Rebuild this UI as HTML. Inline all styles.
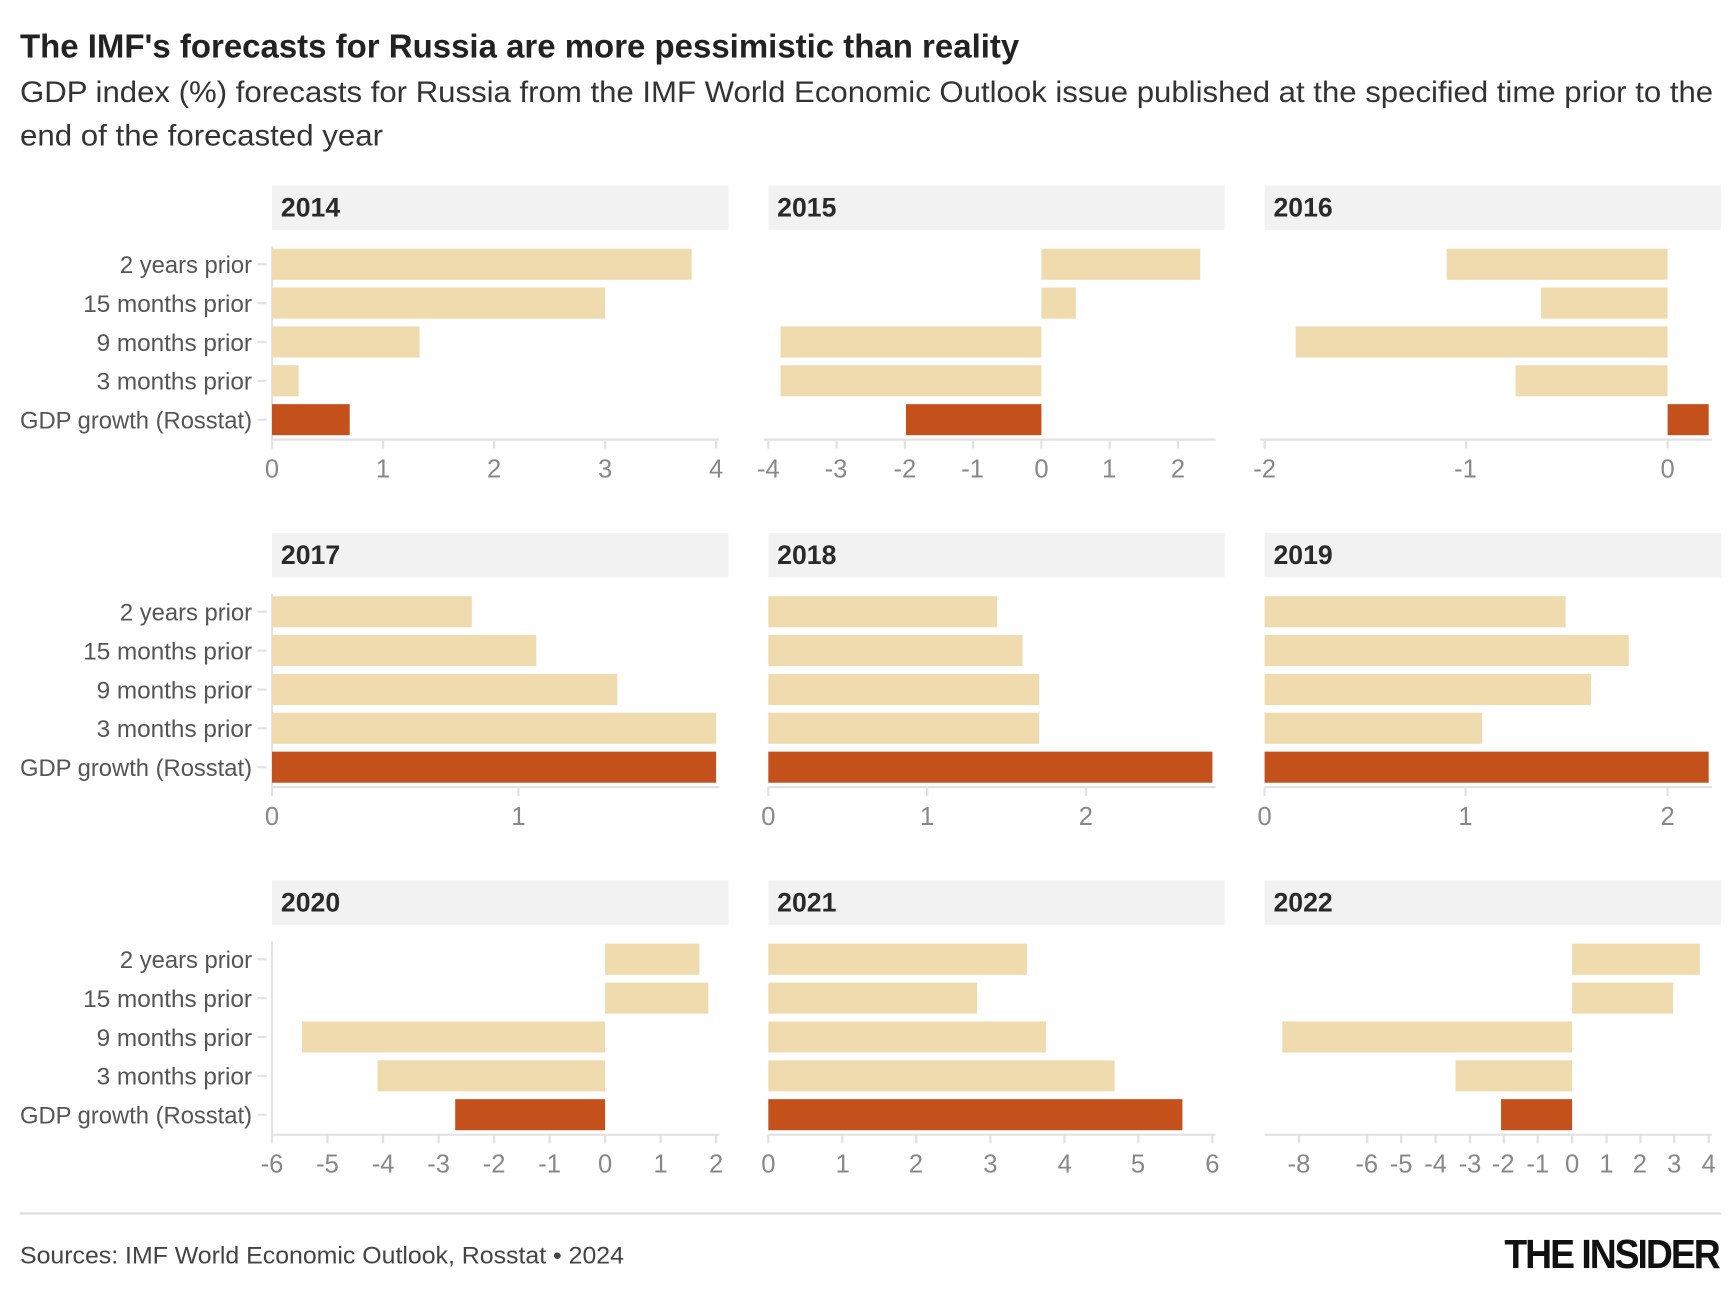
<!DOCTYPE html>
<html><head><meta charset="utf-8"><style>
html,body{margin:0;padding:0;background:#fff;}
svg{display:block;}
text{font-family:"Liberation Sans Narrow","Liberation Sans",sans-serif;}
.t{font-size:30px;font-weight:bold;fill:#222;}
.s{font-size:27px;fill:#333;}
.h{font-size:24px;font-weight:bold;fill:#2a2a2a;}
.l{font-size:22px;fill:#555;text-anchor:end;}
.k{font-size:23px;fill:#888;text-anchor:middle;}
.a{stroke:#e2e2e2;stroke-width:2;fill:none;}
.f{fill:#f0dbae;}
.d{fill:#c4511c;}
.hb{fill:#f2f2f2;}
</style></head><body>
<svg width="1732" height="1289" viewBox="0 0 1560 1161" xmlns="http://www.w3.org/2000/svg">
<text class="t" x="18" y="52" textLength="900" lengthAdjust="spacingAndGlyphs">The IMF's forecasts for Russia are more pessimistic than reality</text>
<text class="s" x="18" y="92" textLength="1525" lengthAdjust="spacingAndGlyphs">GDP index (%) forecasts for Russia from the IMF World Economic Outlook issue published at the specified time prior to the</text>
<text class="s" x="18" y="131" textLength="327" lengthAdjust="spacingAndGlyphs">end of the forecasted year</text>

<g>
<text class="l" x="227" y="246" textLength="119" lengthAdjust="spacingAndGlyphs">2 years prior</text>
<text class="l" x="227" y="281" textLength="152" lengthAdjust="spacingAndGlyphs">15 months prior</text>
<text class="l" x="227" y="316" textLength="140" lengthAdjust="spacingAndGlyphs">9 months prior</text>
<text class="l" x="227" y="351" textLength="140" lengthAdjust="spacingAndGlyphs">3 months prior</text>
<text class="l" x="227" y="386" textLength="209" lengthAdjust="spacingAndGlyphs">GDP growth (Rosstat)</text>
</g>
<g transform="translate(0,313)">
<text class="l" x="227" y="246" textLength="119" lengthAdjust="spacingAndGlyphs">2 years prior</text>
<text class="l" x="227" y="281" textLength="152" lengthAdjust="spacingAndGlyphs">15 months prior</text>
<text class="l" x="227" y="316" textLength="140" lengthAdjust="spacingAndGlyphs">9 months prior</text>
<text class="l" x="227" y="351" textLength="140" lengthAdjust="spacingAndGlyphs">3 months prior</text>
<text class="l" x="227" y="386" textLength="209" lengthAdjust="spacingAndGlyphs">GDP growth (Rosstat)</text>
</g>
<g transform="translate(0,626)">
<text class="l" x="227" y="246" textLength="119" lengthAdjust="spacingAndGlyphs">2 years prior</text>
<text class="l" x="227" y="281" textLength="152" lengthAdjust="spacingAndGlyphs">15 months prior</text>
<text class="l" x="227" y="316" textLength="140" lengthAdjust="spacingAndGlyphs">9 months prior</text>
<text class="l" x="227" y="351" textLength="140" lengthAdjust="spacingAndGlyphs">3 months prior</text>
<text class="l" x="227" y="386" textLength="209" lengthAdjust="spacingAndGlyphs">GDP growth (Rosstat)</text>
</g>
<g class="a"><path d="M232 238h8M232 273h8M232 308h8M232 343h8M232 378h8M245 222V396"/>
<path d="M232 551h8M232 586h8M232 621h8M232 656h8M232 691h8M245 535V709"/>
<path d="M232 864h8M232 899h8M232 934h8M232 969h8M232 1004h8M245 848V1022"/></g>

<rect class="hb" x="245" y="167" width="411" height="40"/><text class="h" x="253" y="195">2014</text>
<rect class="hb" x="692" y="167" width="411" height="40"/><text class="h" x="700" y="195">2015</text>
<rect class="hb" x="1139" y="167" width="411" height="40"/><text class="h" x="1147" y="195">2016</text>
<rect class="hb" x="245" y="480" width="411" height="40"/><text class="h" x="253" y="508">2017</text>
<rect class="hb" x="692" y="480" width="411" height="40"/><text class="h" x="700" y="508">2018</text>
<rect class="hb" x="1139" y="480" width="411" height="40"/><text class="h" x="1147" y="508">2019</text>
<rect class="hb" x="245" y="793" width="411" height="40"/><text class="h" x="253" y="821">2020</text>
<rect class="hb" x="692" y="793" width="411" height="40"/><text class="h" x="700" y="821">2021</text>
<rect class="hb" x="1139" y="793" width="411" height="40"/><text class="h" x="1147" y="821">2022</text>

<rect class="f" x="245" y="224" width="378" height="28"/>
<rect class="f" x="245" y="259" width="300" height="28"/>
<rect class="f" x="245" y="294" width="133" height="28"/>
<rect class="f" x="245" y="329" width="24" height="28"/>
<rect class="d" x="245" y="364" width="70" height="28"/>
<path class="a" d="M245 396H648M245 396v8M345 396v8M445 396v8M545 396v8M645 396v8"/>
<text class="k" x="245" y="430">0</text><text class="k" x="345" y="430">1</text><text class="k" x="445" y="430">2</text><text class="k" x="545" y="430">3</text><text class="k" x="645" y="430">4</text>

<rect class="f" x="938" y="224" width="143" height="28"/>
<rect class="f" x="938" y="259" width="31" height="28"/>
<rect class="f" x="703" y="294" width="235" height="28"/>
<rect class="f" x="703" y="329" width="235" height="28"/>
<rect class="d" x="816" y="364" width="122" height="28"/>
<path class="a" d="M688 396H1095M692 396v8M753.5 396v8M815 396v8M876.5 396v8M938 396v8M999.5 396v8M1061 396v8"/>
<text class="k" x="692" y="430">-4</text><text class="k" x="753" y="430">-3</text><text class="k" x="815" y="430">-2</text><text class="k" x="876" y="430">-1</text><text class="k" x="938" y="430">0</text><text class="k" x="999" y="430">1</text><text class="k" x="1061" y="430">2</text>

<rect class="f" x="1303" y="224" width="199" height="28"/>
<rect class="f" x="1388" y="259" width="114" height="28"/>
<rect class="f" x="1167" y="294" width="335" height="28"/>
<rect class="f" x="1365" y="329" width="137" height="28"/>
<rect class="d" x="1502" y="364" width="37" height="28"/>
<path class="a" d="M1135 396H1542M1139 396v8M1320.5 396v8M1502 396v8"/>
<text class="k" x="1139" y="430">-2</text><text class="k" x="1320" y="430">-1</text><text class="k" x="1502" y="430">0</text>

<rect class="f" x="245" y="537" width="180" height="28"/>
<rect class="f" x="245" y="572" width="238" height="28"/>
<rect class="f" x="245" y="607" width="311" height="28"/>
<rect class="f" x="245" y="642" width="400" height="28"/>
<rect class="d" x="245" y="677" width="400" height="28"/>
<path class="a" d="M245 709H648M245 709v8M467 709v8"/>
<text class="k" x="245" y="743">0</text><text class="k" x="467" y="743">1</text>

<rect class="f" x="692" y="537" width="206" height="28"/>
<rect class="f" x="692" y="572" width="229" height="28"/>
<rect class="f" x="692" y="607" width="244" height="28"/>
<rect class="f" x="692" y="642" width="244" height="28"/>
<rect class="d" x="692" y="677" width="400" height="28"/>
<path class="a" d="M692 709H1095M692 709v8M835 709v8M978 709v8"/>
<text class="k" x="692" y="743">0</text><text class="k" x="835" y="743">1</text><text class="k" x="978" y="743">2</text>

<rect class="f" x="1139" y="537" width="271" height="28"/>
<rect class="f" x="1139" y="572" width="328" height="28"/>
<rect class="f" x="1139" y="607" width="294" height="28"/>
<rect class="f" x="1139" y="642" width="196" height="28"/>
<rect class="d" x="1139" y="677" width="400" height="28"/>
<path class="a" d="M1139 709H1542M1139 709v8M1320 709v8M1502 709v8"/>
<text class="k" x="1139" y="743">0</text><text class="k" x="1320" y="743">1</text><text class="k" x="1502" y="743">2</text>

<rect class="f" x="545" y="850" width="85" height="28"/>
<rect class="f" x="545" y="885" width="93" height="28"/>
<rect class="f" x="272" y="920" width="273" height="28"/>
<rect class="f" x="340" y="955" width="205" height="28"/>
<rect class="d" x="410" y="990" width="135" height="28"/>
<path class="a" d="M245 1022H648M245 1022v8M295 1022v8M345 1022v8M395 1022v8M445 1022v8M495 1022v8M545 1022v8M595 1022v8M645 1022v8"/>
<text class="k" x="245" y="1056">-6</text><text class="k" x="295" y="1056">-5</text><text class="k" x="345" y="1056">-4</text><text class="k" x="395" y="1056">-3</text><text class="k" x="445" y="1056">-2</text><text class="k" x="495" y="1056">-1</text><text class="k" x="545" y="1056">0</text><text class="k" x="595" y="1056">1</text><text class="k" x="645" y="1056">2</text>

<rect class="f" x="692" y="850" width="233" height="28"/>
<rect class="f" x="692" y="885" width="188" height="28"/>
<rect class="f" x="692" y="920" width="250" height="28"/>
<rect class="f" x="692" y="955" width="312" height="28"/>
<rect class="d" x="692" y="990" width="373" height="28"/>
<path class="a" d="M692 1022H1095M692 1022v8M758.7 1022v8M825.3 1022v8M892 1022v8M958.7 1022v8M1025.3 1022v8M1092 1022v8"/>
<text class="k" x="692" y="1056">0</text><text class="k" x="759" y="1056">1</text><text class="k" x="825" y="1056">2</text><text class="k" x="892" y="1056">3</text><text class="k" x="959" y="1056">4</text><text class="k" x="1025" y="1056">5</text><text class="k" x="1092" y="1056">6</text>

<rect class="f" x="1416" y="850" width="115" height="28"/>
<rect class="f" x="1416" y="885" width="91" height="28"/>
<rect class="f" x="1155" y="920" width="261" height="28"/>
<rect class="f" x="1311" y="955" width="105" height="28"/>
<rect class="d" x="1352" y="990" width="64" height="28"/>
<path class="a" d="M1139 1022H1542M1170 1022v8M1231.5 1022v8M1262 1022v8M1293 1022v8M1324 1022v8M1354.5 1022v8M1385 1022v8M1416 1022v8M1447 1022v8M1477.5 1022v8M1508 1022v8M1539 1022v8"/>
<text class="k" x="1170" y="1056">-8</text><text class="k" x="1231" y="1056">-6</text><text class="k" x="1262" y="1056">-5</text><text class="k" x="1293" y="1056">-4</text><text class="k" x="1324" y="1056">-3</text><text class="k" x="1354" y="1056">-2</text><text class="k" x="1385" y="1056">-1</text><text class="k" x="1416" y="1056">0</text><text class="k" x="1447" y="1056">1</text><text class="k" x="1477" y="1056">2</text><text class="k" x="1508" y="1056">3</text><text class="k" x="1539" y="1056">4</text>

<line x1="18" y1="1093" x2="1550" y2="1093" stroke="#dcdcdc" stroke-width="2"/>
<text x="18" y="1138" style="font-size:22px;fill:#444" textLength="544" lengthAdjust="spacingAndGlyphs">Sources: IMF World Economic Outlook, Rosstat • 2024</text>
<text x="1355" y="1142" style="font-size:37px;font-weight:bold;fill:#111;letter-spacing:-2px" textLength="193" lengthAdjust="spacingAndGlyphs">THE INSIDER</text>
</svg>
</body></html>
